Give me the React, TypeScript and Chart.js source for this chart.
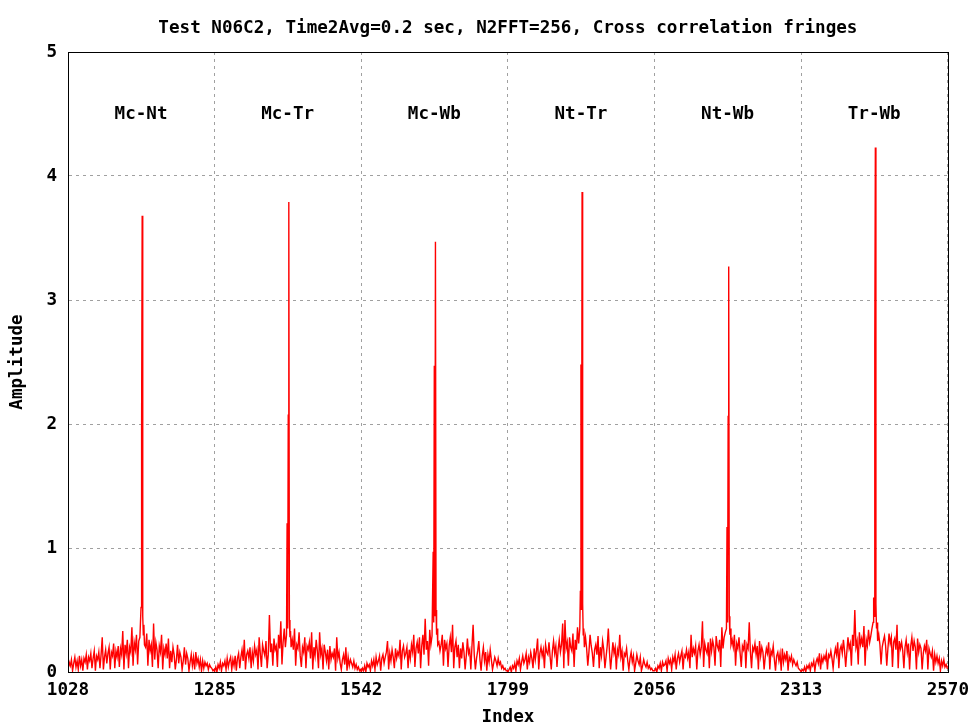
import React, { useEffect, useRef } from "react";
import { Chart, registerables } from "chart.js";

Chart.register(...registerables);

// ---- data ----
const chartTitle = "Test N06C2, Time2Avg=0.2 sec, N2FFT=256, Cross correlation fringes";
const xTitle = "Index";
const yTitle = "Amplitude";
const xMin = 1028;
const xMax = 2570;
const xStep = 257;
const yMin = 0;
const yMax = 5;

const segmentStarts = [1028, 1285, 1542, 1799, 2056, 2313];
const baselineNames = ["Mc-Nt", "Mc-Tr", "Mc-Wb", "Nt-Tr", "Nt-Wb", "Tr-Wb"];
const labelIndex = [1156, 1413, 1670, 1927, 2184, 2441];
const labelAmplitude = 4.5;

// noise before the fringe: offsets 0,2,...,124 in each segment
const seg1Before = [
  0.02,0.08,0.05,0.10,0.01,0.07,0.12,0.04,0.09,0.02,
  0.13,0.05,0.10,0.01,0.11,0.08,0.14,0.02,0.12,0.09,
  0.15,0.03,0.11,0.17,0.01,0.13,0.10,0.16,0.03,0.14,
  0.28,0.02,0.12,0.18,0.07,0.15,0.20,0.02,0.16,0.13,
  0.23,0.03,0.17,0.12,0.21,0.04,0.19,0.14,0.33,0.02,
  0.22,0.15,0.26,0.03,0.20,0.16,0.36,0.05,0.24,0.18,
  0.30,0.06,0.25];
const seg2Before = [
  0.01,0.04,0.00,0.06,0.03,0.08,0.01,0.07,0.05,0.09,
  0.02,0.11,0.04,0.09,0.12,0.02,0.10,0.05,0.13,0.01,
  0.11,0.15,0.03,0.12,0.18,0.09,0.26,0.02,0.14,0.17,
  0.11,0.20,0.03,0.16,0.09,0.21,0.14,0.18,0.02,0.28,
  0.15,0.04,0.22,0.17,0.13,0.25,0.03,0.14,0.46,0.16,
  0.23,0.05,0.27,0.18,0.21,0.04,0.30,0.19,0.41,0.06,
  0.24,0.35,0.20];
const seg3Before = [
  0.00,0.03,0.01,0.05,0.00,0.07,0.04,0.06,0.01,0.09,
  0.05,0.10,0.02,0.12,0.06,0.09,0.13,0.01,0.11,0.14,
  0.07,0.12,0.16,0.25,0.02,0.15,0.09,0.18,0.12,0.03,
  0.19,0.11,0.16,0.13,0.26,0.02,0.17,0.21,0.12,0.15,
  0.20,0.03,0.18,0.11,0.22,0.16,0.30,0.04,0.19,0.24,
  0.15,0.28,0.03,0.21,0.30,0.14,0.43,0.18,0.25,0.05,
  0.34,0.22,0.29];
const seg4Before = [
  0.00,0.02,0.04,0.00,0.05,0.03,0.07,0.01,0.09,0.06,
  0.11,0.02,0.08,0.13,0.07,0.10,0.15,0.02,0.12,0.08,
  0.16,0.11,0.03,0.19,0.10,0.17,0.27,0.02,0.15,0.20,
  0.13,0.18,0.03,0.22,0.16,0.14,0.24,0.12,0.02,0.17,
  0.25,0.15,0.21,0.04,0.18,0.26,0.16,0.22,0.39,0.03,
  0.42,0.19,0.24,0.05,0.28,0.20,0.17,0.31,0.04,0.26,
  0.18,0.36,0.23];
const seg5Before = [
  0.01,0.03,0.00,0.05,0.03,0.07,0.01,0.08,0.05,0.06,
  0.09,0.01,0.11,0.07,0.10,0.02,0.12,0.08,0.14,0.02,
  0.11,0.15,0.08,0.13,0.17,0.02,0.14,0.12,0.18,0.11,
  0.16,0.03,0.30,0.12,0.19,0.15,0.21,0.02,0.17,0.22,
  0.14,0.20,0.41,0.04,0.23,0.18,0.15,0.24,0.03,0.27,
  0.17,0.25,0.20,0.05,0.29,0.21,0.18,0.26,0.04,0.36,
  0.19,0.28,0.32];
const seg6Before = [
  0.00,0.02,0.01,0.04,0.00,0.05,0.03,0.06,0.01,0.07,
  0.05,0.09,0.01,0.08,0.11,0.07,0.15,0.02,0.12,0.08,
  0.13,0.10,0.15,0.02,0.14,0.12,0.17,0.11,0.03,0.13,
  0.19,0.14,0.24,0.03,0.18,0.21,0.15,0.26,0.17,0.04,
  0.16,0.28,0.19,0.23,0.05,0.30,0.21,0.50,0.20,0.25,
  0.06,0.32,0.22,0.27,0.20,0.37,0.05,0.26,0.21,0.34,
  0.24,0.29,0.35];

// fringe: offsets 126..134 in each segment
const seg1Peak = [0.28, 0.40, 0.52, 1.97, 3.68, 0.45, 0.30, 0.38, 0.22];
const seg2Peak = [0.30, 1.20, 0.35, 2.07, 3.79, 0.42, 0.28, 0.33, 0.20];
const seg3Peak = [0.97, 0.40, 2.47, 0.45, 3.47, 0.50, 0.30, 0.35, 0.22];
const seg4Peak = [0.35, 0.65, 2.48, 0.50, 3.87, 0.55, 0.30, 0.35, 0.20];
const seg5Peak = [0.35, 1.17, 0.40, 2.06, 3.27, 0.45, 0.30, 0.35, 0.22];
const seg6Peak = [0.40, 0.60, 0.45, 2.63, 4.23, 0.55, 0.35, 0.40, 0.25];

// noise after the fringe: offsets 136,138,...,256 in each segment
const seg1After = [
  0.20,0.31,0.05,0.26,0.17,0.22,0.04,0.39,0.10,0.24,
  0.18,0.03,0.21,0.16,0.30,0.02,0.19,0.14,0.23,0.11,
  0.27,0.03,0.17,0.08,0.20,0.14,0.02,0.10,0.22,0.07,
  0.16,0.12,0.02,0.09,0.20,0.06,0.15,0.11,0.01,0.08,
  0.14,0.05,0.12,0.02,0.16,0.07,0.11,0.04,0.10,0.01,
  0.09,0.03,0.08,0.05,0.07,0.02,0.06,0.04,0.03,0.01,
  0.02];
const seg2After = [
  0.26,0.18,0.35,0.05,0.22,0.19,0.32,0.13,0.04,0.20,
  0.16,0.28,0.03,0.21,0.18,0.24,0.11,0.32,0.02,0.20,
  0.13,0.26,0.17,0.03,0.32,0.14,0.19,0.02,0.22,0.16,
  0.09,0.18,0.02,0.21,0.10,0.15,0.12,0.19,0.01,0.28,
  0.11,0.16,0.07,0.02,0.10,0.14,0.06,0.20,0.01,0.12,
  0.05,0.10,0.07,0.04,0.09,0.03,0.06,0.02,0.04,0.01,
  0.02];
const seg3After = [
  0.24,0.17,0.22,0.30,0.05,0.26,0.19,0.23,0.04,0.21,
  0.28,0.16,0.38,0.03,0.20,0.25,0.12,0.22,0.03,0.19,
  0.11,0.24,0.16,0.02,0.13,0.27,0.15,0.18,0.02,0.21,
  0.38,0.14,0.02,0.11,0.17,0.25,0.10,0.01,0.13,0.20,
  0.09,0.16,0.01,0.14,0.08,0.18,0.10,0.02,0.07,0.12,
  0.09,0.05,0.11,0.06,0.08,0.03,0.05,0.02,0.03,0.01,
  0.01];
const seg4After = [
  0.28,0.19,0.05,0.16,0.30,0.21,0.15,0.04,0.18,0.22,
  0.14,0.29,0.03,0.20,0.13,0.25,0.18,0.03,0.12,0.21,
  0.35,0.16,0.02,0.13,0.24,0.15,0.20,0.02,0.18,0.14,
  0.30,0.12,0.17,0.01,0.15,0.13,0.19,0.09,0.02,0.11,
  0.16,0.08,0.13,0.01,0.07,0.14,0.09,0.06,0.12,0.01,
  0.05,0.10,0.06,0.04,0.08,0.03,0.05,0.02,0.03,0.01,
  0.01];
const seg5After = [
  0.26,0.20,0.30,0.05,0.23,0.19,0.28,0.15,0.04,0.21,
  0.18,0.26,0.03,0.22,0.19,0.40,0.16,0.03,0.20,0.17,
  0.23,0.14,0.21,0.02,0.25,0.13,0.20,0.16,0.02,0.12,
  0.19,0.15,0.24,0.02,0.17,0.14,0.21,0.10,0.01,0.13,
  0.16,0.09,0.15,0.01,0.19,0.08,0.14,0.10,0.17,0.01,
  0.12,0.09,0.13,0.06,0.10,0.07,0.05,0.08,0.03,0.02,
  0.01];
const seg6After = [
  0.30,0.22,0.06,0.20,0.25,0.29,0.21,0.05,0.19,0.31,
  0.23,0.28,0.04,0.24,0.27,0.18,0.38,0.03,0.25,0.19,
  0.24,0.17,0.03,0.20,0.26,0.16,0.23,0.02,0.21,0.28,
  0.17,0.25,0.20,0.02,0.27,0.16,0.22,0.19,0.02,0.15,
  0.21,0.17,0.26,0.02,0.19,0.15,0.12,0.17,0.01,0.14,
  0.08,0.13,0.07,0.11,0.01,0.09,0.05,0.10,0.04,0.06,
  0.03];
const lastValue = 0.05;

const beforeSets = [seg1Before, seg2Before, seg3Before, seg4Before, seg5Before, seg6Before];
const peakSets = [seg1Peak, seg2Peak, seg3Peak, seg4Peak, seg5Peak, seg6Peak];
const afterSets = [seg1After, seg2After, seg3After, seg4After, seg5After, seg6After];

const FONT_FAMILY = "'DejaVu Sans Mono', monospace";
const FONT_SIZE = 17.6;

function buildPoints() {
  const pts: { x: number; y: number }[] = [];
  segmentStarts.forEach((start, s) => {
    beforeSets[s].forEach((v, i) => pts.push({ x: start + 2 * i, y: v }));
    peakSets[s].forEach((v, j) => pts.push({ x: start + 126 + j, y: v }));
    afterSets[s].forEach((v, i) => pts.push({ x: start + 136 + 2 * i, y: v }));
  });
  pts.push({ x: xMax, y: lastValue });
  return pts;
}

const decorPlugin = {
  id: "decor",
  afterDatasetsDraw(chart: any) {
    const { ctx, chartArea, scales } = chart;
    ctx.save();
    ctx.fillStyle = "#000";
    ctx.font = `bold ${FONT_SIZE}px ${FONT_FAMILY}`;
    ctx.textAlign = "center";
    ctx.textBaseline = "middle";
    baselineNames.forEach((name, i) => {
      ctx.fillText(name, scales.x.getPixelForValue(labelIndex[i]), scales.y.getPixelForValue(labelAmplitude));
    });
    ctx.fillText(chartTitle, (chartArea.left + chartArea.right) / 2, 28);
    ctx.strokeStyle = "#000";
    ctx.lineWidth = 1;
    ctx.strokeRect(
      Math.round(chartArea.left) + 0.5,
      Math.round(chartArea.top) + 0.5,
      Math.round(chartArea.right - chartArea.left),
      Math.round(chartArea.bottom - chartArea.top)
    );
    ctx.restore();
  },
};

export default function App() {
  const canvasRef = useRef<HTMLCanvasElement | null>(null);

  useEffect(() => {
    if (!canvasRef.current) return;
    const font = { family: FONT_FAMILY, size: FONT_SIZE, weight: "bold" as const };
    const chart = new Chart(canvasRef.current, {
      type: "line",
      data: {
        datasets: [
          {
            data: buildPoints(),
            borderColor: "#ff0000",
            borderWidth: 1.4,
            pointRadius: 0,
            tension: 0,
            fill: false,
          },
        ],
      },
      options: {
        animation: false,
        responsive: false,
        devicePixelRatio: 1,
        layout: { padding: { top: 52, right: 29, left: 0, bottom: 0 } },
        plugins: {
          legend: { display: false },
          title: { display: false },
          tooltip: { enabled: false },
        },
        scales: {
          x: {
            type: "linear",
            min: xMin,
            max: xMax,
            ticks: {
              stepSize: xStep,
              font,
              color: "#000",
              padding: 8,
              maxRotation: 0,
              callback: (v: any) => String(v),
            },
            grid: { color: "#a0a0a0", drawTicks: false },
            border: { display: true, color: "#000", width: 1, dash: [3, 4] },
            title: { display: true, text: xTitle, font, color: "#000", padding: 0 },
            afterFit: (scale: any) => {
              scale.height = 56;
            },
          },
          y: {
            type: "linear",
            min: yMin,
            max: yMax,
            ticks: { stepSize: 1, font, color: "#000", padding: 11 },
            grid: { color: "#a0a0a0", drawTicks: false },
            border: { display: true, color: "#000", width: 1, dash: [3, 4] },
            title: { display: true, text: yTitle, font, color: "#000", padding: { top: 7, bottom: 0 } },
            afterFit: (scale: any) => {
              scale.width = 68;
            },
          },
        },
      },
      plugins: [decorPlugin],
    });
    return () => chart.destroy();
  }, []);

  return (
    <div style={{ position: "fixed", left: 0, top: 0, width: 977, height: 728, background: "#fff" }}>
      <canvas ref={canvasRef} width={977} height={728} style={{ display: "block" }} />
    </div>
  );
}
